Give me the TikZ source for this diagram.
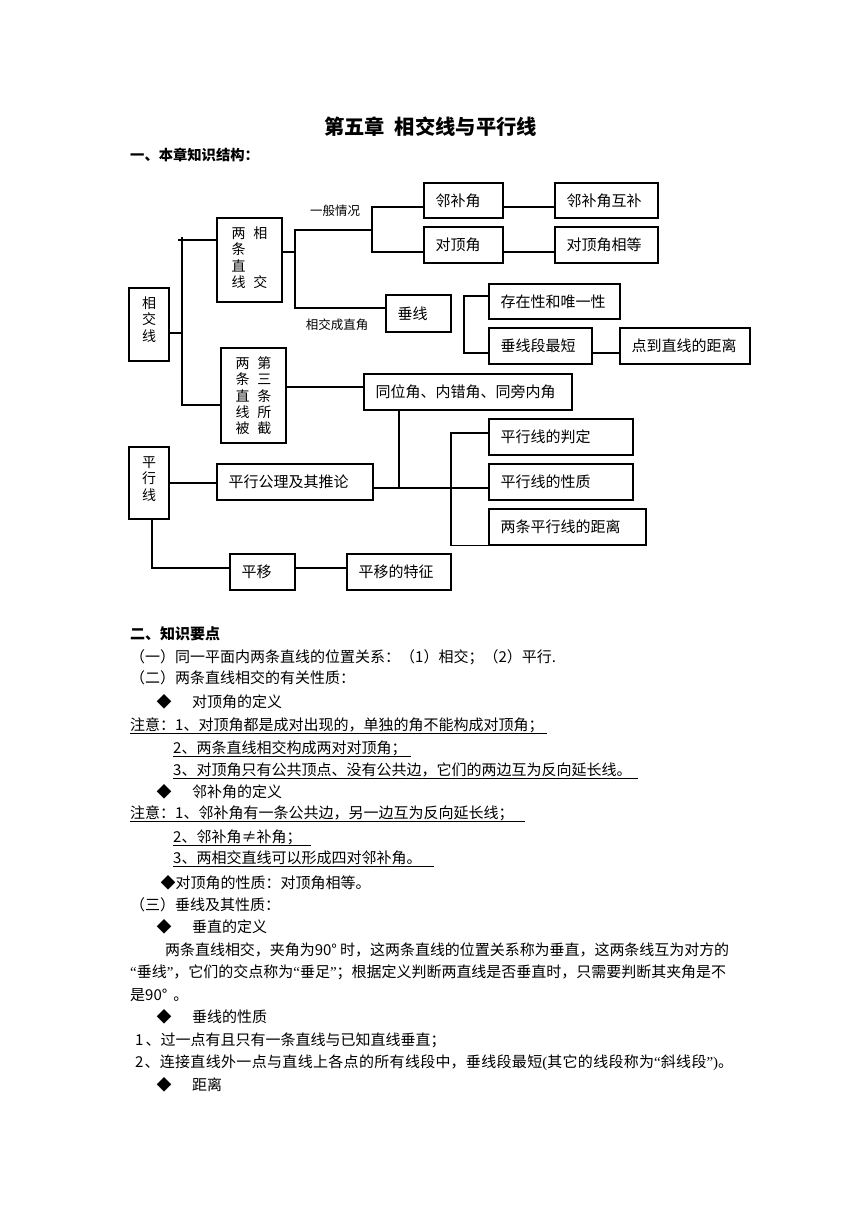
\documentclass[tikz,border=0pt]{standalone}
\usepackage{fontspec}
\setmainfont{Noto Sans CJK SC}
\newfontfamily\latf{Liberation Serif}
\XeTeXlinebreaklocale "zh"
\XeTeXlinebreakskip=0pt plus 1pt minus 0.5pt
\newcommand\qo{{\latf “}}
\newcommand\qc{{\latf ”}}
\newcommand\dmd{\makebox[15pt]{◆}}
\begin{document}
\begin{tikzpicture}[x=1pt,y=-1pt,
  bx/.style={draw, line width=1.2pt, inner xsep=11.5pt, inner ysep=0pt, font=\fontsize{15}{18}\selectfont},
  vbx/.style={draw, line width=1.2pt, inner sep=0pt, text height=0pt, font=\fontsize{14}{15}\selectfont},
  ln/.style={line width=1.2pt},
  lbl/.style={inner sep=0pt, font=\fontsize{12.5}{14}\selectfont},
  txt/.style={inner sep=0pt, anchor=west, font=\fontsize{15}{18}\selectfont},
  ul/.style={line width=0.8pt}
]
\useasboundingbox (0,0) rectangle (860,1216);
\fill[white] (0,0) rectangle (860,1216);

% ---------- headings ----------
\node[inner sep=0pt, font=\fontsize{20.3}{24}\selectfont\bfseries] (title) at (430.5,127) {第五章\hspace{10pt}相交线与平行线};
\node[txt, font=\fontsize{14.3}{17}\selectfont\bfseries] (h1) at (130,155) {一、本章知识结构：};

% ---------- vertical boxes ----------
\def\arraystretch{1}
\node[vbx, minimum width=40pt, minimum height=73pt, text depth=32pt] (A) at (149,324.5)
  {\begin{tabular}[t]{@{}c@{}}相\\交\\线\end{tabular}};
\node[vbx, minimum width=65pt, minimum height=84pt, text depth=43pt] (B) at (249.5,260)
  {\begin{tabular}[t]{@{}c@{\hspace{8pt}}c@{}}两&相\\条&\\直&\\线&交\end{tabular}};
\node[vbx, minimum width=65pt, minimum height=95pt, text depth=54pt] (C) at (253.5,395.5)
  {\begin{tabular}[t]{@{}c@{\hspace{8pt}}c@{}}两&第\\条&三\\直&条\\线&所\\被&截\end{tabular}};
\node[vbx, minimum width=40pt, minimum height=72pt, text depth=31pt] (Q) at (149,483)
  {\begin{tabular}[t]{@{}c@{}}平\\行\\线\end{tabular}};

% ---------- horizontal boxes ----------
\node[bx, minimum height=35pt] (E) at (463.5,200.5) {\makebox[56pt][l]{邻补角}};
\node[bx, minimum height=36pt] (F) at (463.5,245) {\makebox[56pt][l]{对顶角}};
\node[bx, minimum height=35pt] (G) at (606.5,200.5) {\makebox[80pt][l]{邻补角互补}};
\node[bx, minimum height=36pt] (H) at (606.5,245) {\makebox[80pt][l]{对顶角相等}};
\node[bx, minimum height=37pt] (D) at (418.5,313.5) {\makebox[42pt][l]{垂线}};
\node[bx, minimum height=35pt] (I) at (554.5,301.5) {\makebox[108pt][l]{存在性和唯一性}};
\node[bx, minimum height=36pt] (J) at (540.5,346) {\makebox[80pt][l]{垂线段最短}};
\node[bx, minimum height=36pt] (K) at (685,346) {\makebox[107pt][l]{点到直线的距离}};
\node[bx, minimum height=36pt] (L) at (468,392) {\makebox[185pt][l]{同位角、内错角、同旁内角}};
\node[bx, minimum height=36pt] (N) at (561,437) {\makebox[121pt][l]{平行线的判定}};
\node[bx, minimum height=36pt] (O) at (561,482) {\makebox[121pt][l]{平行线的性质}};
\node[bx, minimum height=36pt] (P) at (567.5,527) {\makebox[134pt][l]{两条平行线的距离}};
\node[bx, minimum height=36pt] (M) at (295,482) {\makebox[133pt][l]{平行公理及其推论}};
\node[bx, minimum height=36pt] (R) at (262.5,572) {\makebox[42pt][l]{平移}};
\node[bx, minimum height=36pt] (S) at (399,572) {\makebox[81pt][l]{平移的特征}};

% ---------- labels ----------
\node[lbl] (lab1) at (335,211) {一般情况};
\node[lbl] (lab2) at (337,325) {相交成直角};

% ---------- junction coordinates ----------
\coordinate (t1) at (182,237);
\coordinate (tk) at (178,240);
\coordinate (j2) at (295,230);
\coordinate (j3) at (372,230);
\coordinate (k) at (464,353);
\coordinate (m) at (399,488);
\coordinate (q) at (451,488);

% ---------- connectors ----------
\draw[ln] ([yshift=-8.5pt]A.east) -| (t1);
\draw[ln] (t1) |- ([yshift=-9.5pt]C.west);
\draw[ln] (tk) -- ([yshift=20pt]B.west);
\draw[ln] ([yshift=8pt]B.east) -| (j2) -- (j3);
\draw[ln] (j2) |- ([yshift=5.5pt]D.west);
\draw[ln] ([yshift=-6.5pt]E.west) -| (j3) |- ([yshift=-7pt]F.west);
\draw[ln] ([yshift=-6.5pt]E.east) -- ([yshift=-6.5pt]G.west);
\draw[ln] ([yshift=-7pt]F.east) -- ([yshift=-7pt]H.west);
\draw[ln] ([yshift=5.5pt]I.west) -| (k) -- ([yshift=-7pt]J.west);
\draw[ln] ([yshift=-7pt]J.east) -- ([yshift=-7pt]K.west);
\draw[ln] ([yshift=8.5pt]C.east) -- ([yshift=5pt]L.west);
\draw[ln] (L.south -| m) -- (m);
\draw[ln] ([yshift=-6pt]M.east) -- ([yshift=-6pt]O.west);
\draw[ln] ([yshift=4pt]N.west) -| (P.south west -| q) -- (P.south west);
\draw[ln] (Q.east) -- (Q.east -| M.west);
\draw[ln] ([xshift=3pt]Q.south) |- ([yshift=4pt]R.west);
\draw[ln] ([yshift=4pt]R.east) -- ([yshift=4pt]S.west);

% ---------- text section ----------
\node[txt, font=\fontsize{15}{18}\selectfont\bfseries] (h2) at (130,634) {二、知识要点};
\node[txt] (l1) at (130,657) {（一）同一平面内两条直线的位置关系：（1）相交；（2）平行.};
\node[txt] (l2) at (130,678) {（二）两条直线相交的有关性质：};
\node[txt] (l3) at (156.5,702) {\dmd\hspace{20.5pt}对顶角的定义};
\node[txt] (l4) at (130,725) {注意：1、对顶角都是成对出现的，单独的角不能构成对顶角；};
\node[txt] (l5) at (173,748) {2、两条直线相交构成两对对顶角；};
\node[txt] (l6) at (173,770) {3、对顶角只有公共顶点、没有公共边，它们的两边互为反向延长线。};
\node[txt] (l7) at (156.5,792) {\dmd\hspace{20.5pt}邻补角的定义};
\node[txt] (l8) at (130,813) {注意：1、邻补角有一条公共边，另一边互为反向延长线；};
\node[txt] (l9) at (173,837) {2、邻补角≠补角；};
\node[txt] (l10) at (173,858) {3、两相交直线可以形成四对邻补角。};
\node[txt] (l11) at (160.5,883) {\dmd 对顶角的性质：对顶角相等。};
\node[txt] (l12) at (130,905) {（三）垂线及其性质：};
\node[txt] (l13) at (156.5,927) {\dmd\hspace{20.5pt}垂直的定义};
\node[txt] (l14) at (165,950) {\parbox{564pt}{\parfillskip=0pt 两条直线相交，夹角为90° 时，这两条直线的位置关系称为垂直，这两条线互为对方的}};
\node[txt] (l15) at (130,972) {\parbox{596pt}{\parfillskip=0pt \qo 垂线\qc，它们的交点称为\qo 垂足\qc；根据定义判断两直线是否垂直时，只需要判断其夹角是不}};
\node[txt] (l16) at (130,995) {是90°\hspace{6pt}。};
\node[txt] (l17) at (156.5,1017) {\dmd\hspace{20.5pt}垂线的性质};
\node[txt] (l18) at (135,1040) {1\hspace{2pt}、过一点有且只有一条直线与已知直线垂直；};
\node[txt] (l19) at (135,1063) {\parbox{598pt}{\parfillskip=0pt 2\hspace{1pt}、连接直线外一点与直线上各点的所有线段中，垂线段最短{\latf (}其它的线段称为\qo 斜线段\qc{\latf )}。}};
\node[txt] (l20) at (156.5,1085) {\dmd\hspace{20.5pt}距离};

% ---------- underlines ----------
\draw[ul] (130,733) -- (547,733);
\draw[ul] (173,756) -- (411,756);
\draw[ul] (173,778) -- (638,778);
\draw[ul] (130,821) -- (525,821);
\draw[ul] (173,845) -- (311,845);
\draw[ul] (173,866) -- (434,866);
\end{tikzpicture}
\end{document}
